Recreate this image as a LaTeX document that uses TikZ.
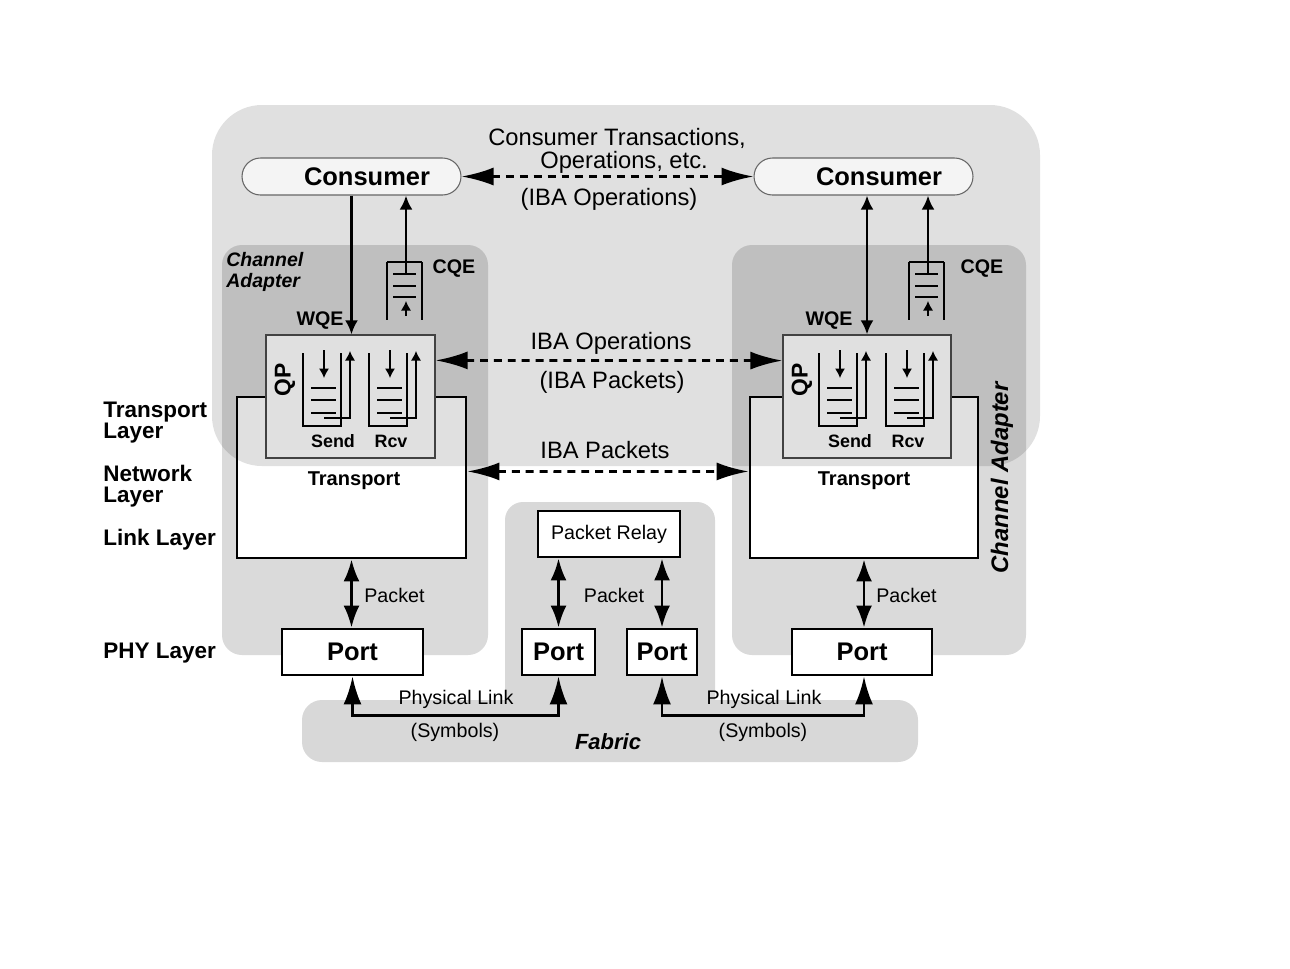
\documentclass[tikz,border=0pt]{standalone}
\usepackage{fontspec}
\setmainfont{Liberation Sans}
\usetikzlibrary{arrows.meta,positioning}

\definecolor{cagray}{HTML}{DADADA}
\definecolor{fabgray}{HTML}{D8D8D8}
\newcommand{\fsz}[2]{\fontsize{#1}{#2}\selectfont}

\begin{document}
\begin{tikzpicture}[x=0.02cm, y=-0.02cm,
    every node/.style={inner sep=0pt},
    mid/.style={font=\fsz{13.5}{13}, align=center},
    small/.style={font=\fsz{11.2}{12}},
    head/.style={font=\bfseries\fsz{14.5}{15}},
    layer/.style={font=\bfseries\fsz{12.8}{11.9}, align=left, anchor=west},
    tag/.style={font=\bfseries\fsz{11.2}{12}},
    qtag/.style={font=\bfseries\fsz{10.2}{11}},
    catag/.style={font=\bfseries\itshape\fsz{11.1}{11.9}, align=left},
    consumer/.style={draw=black!60, line width=0.6pt, fill=gray!9,
                     rounded corners=0.37cm, minimum width=4.38cm, minimum height=0.74cm},
    box/.style={draw, line width=1.6pt, fill=white},
    port/.style={box, minimum height=0.92cm, font=\bfseries\fsz{14.5}{15}},
    qpbox/.style={draw=black!70, line width=0.7pt, fill=white,
                  minimum width=3.38cm, minimum height=2.46cm},
    thinline/.style={line width=0.65pt},
    tiny/.style={line width=0.65pt, -{Latex[length=0.19cm, width=0.2cm]}},
    wqe/.style={line width=1.6pt, -{Latex[length=0.28cm, width=0.26cm]}},
    wqeboth/.style={line width=1.6pt, {Latex[length=0.28cm, width=0.26cm]}-{Latex[length=0.28cm, width=0.26cm]}},
    pkt/.style={line width=1.6pt, {Latex[length=0.44cm, width=0.32cm]}-{Latex[length=0.44cm, width=0.32cm]}},
    phys/.style={line width=1.6pt, {Latex[length=0.56cm, width=0.36cm]}-{Latex[length=0.56cm, width=0.36cm]}},
    dasharrow/.style={line width=1.6pt, dash pattern=on 4.5pt off 3.4pt,
                      {Latex[length=0.64cm, width=0.36cm]}-{Latex[length=0.64cm, width=0.36cm]}}]

  \fill[white] (0,0) rectangle (1290,968);
  \useasboundingbox (0,0) rectangle (1290,968);

  % fabric and switch
  \fill[fabgray, rounded corners=0.4cm] (302,700) rectangle (918,762);
  \fill[fabgray, rounded corners=0.36cm] (505,502) rectangle (715,720);

  % channel adapters
  \foreach \xa/\xb in {222/488, 732/1026}
    \fill[cagray, rounded corners=0.4cm] (\xa,245) rectangle (\xb,655);

  \node[box, minimum width=4.58cm, minimum height=3.22cm] (transL) at (351.5,477.5) {};
  \node[box, minimum width=4.56cm, minimum height=3.22cm] (transR) at (864,477.5) {};
  \node[font=\bfseries\fsz{11.4}{12}] (transLtxt) at (354,481) {Transport};
  \node[font=\bfseries\fsz{11.4}{12}] (transRtxt) at (864,481) {Transport};
  \node[qpbox] (qpL) at (350.5,396.5) {};
  \node[qpbox, minimum width=3.36cm] (qpR) at (867,396.5) {};

  % send and receive queues
  \foreach \q in {303,369,819,886} {
    \draw[thinline] (\q,353) -- (\q,426) -- ({\q+38},426) -- ({\q+38},353);
    \foreach \y in {388,400,413}
      \draw[thinline] ({\q+8},\y) -- ({\q+33},\y);
    \draw[tiny] ({\q+21},350) -- ({\q+21},378);
    \draw[tiny] ({\q+21},418) -- ({\q+47},418) -- ({\q+47},351);
  }
  \foreach \q/\n in {266/L, 783/R} {
    \node[font=\bfseries\fsz{13}{13}, rotate=90] (qp\n txt) at ({\q+19},380) {QP};
    \node[qtag] (send\n) at ({\q+67},441) {Send};
    \node[qtag] (rcv\n) at ({\q+125},441) {Rcv};
  }

  % hosts
  \fill[black, fill opacity=0.12, rounded corners=1cm] (212,105) rectangle (1040,466);

  \node[consumer] (consL) at (351.5,176.5) {};
  \node[consumer] (consR) at (863.5,176.5) {};
  \node[head] (consLtxt) at (367,177) {Consumer};
  \node[head] (consRtxt) at (879,177) {Consumer};

  % completion queues
  \foreach \c/\n in {405/L, 927/R} {
    \draw[thinline] ({\c-18},262) -- ({\c+17},262);
    \draw[thinline] ({\c-18},262) -- ({\c-18},320);
    \draw[thinline] ({\c+17},262) -- ({\c+17},320);
    \foreach \y in {274,286,297}
      \draw[thinline] ({\c-12},\y) -- ({\c+11},\y);
    \coordinate (cqe\n) at ({\c+1},274);
    \draw[tiny] ({\c+1},316) -- ({\c+1},301);
  }

  \draw[wqe] (consL.south) -- (consL.south |- qpL.north);
  \draw[wqe] (cqeL) -- (cqeL |- consL.south);
  \draw[wqeboth] (qpR.north |- consR.south) -- (qpR.north);
  \draw[wqe] (cqeR) -- (cqeR |- consR.south);

  \node[tag] (wqeL) at (320,321) {WQE};
  \node[tag] (wqeR) at (829,321) {WQE};
  \node[tag] (cqeLtxt) at (454,269) {CQE};
  \node[tag] (cqeRtxt) at (982,269) {CQE};
  \node[catag, anchor=west] (caL) at (226,271.5) {Channel\\Adapter};
  \node[font=\bfseries\itshape\fsz{13.6}{14}, rotate=90] (caR) at (1002,478) {Channel Adapter};

  % peer operations
  \draw[dasharrow] (consL.east) -- (consR.west);
  \node[mid] (opsTop) at (617,150.5) {Consumer Transactions,\\\hspace*{8pt}Operations, etc.};
  \node[mid] (opsBot) at (609,199) {(IBA Operations)};
  \draw[dasharrow] (qpL.23) -- (qpR.157);
  \node[mid] (qpTop) at (611,343) {IBA Operations};
  \node[mid] (qpBot) at (612,382) {(IBA Packets)};
  \draw[dasharrow] (transL.3) -- (transR.177);
  \node[mid] (trTop) at (605,450) {IBA Packets};

  % layers
  \node[layer] (layTr) at (103,423) {Transport\\Layer};
  \node[layer] (layNw) at (103,486) {Network\\Layer};
  \node[layer] (layLk) at (103,540) {Link Layer};
  \node[layer] (layPhy) at (103,653) {PHY Layer};

  % switch and ports
  \node[box, minimum width=2.84cm, minimum height=0.92cm, small] (relay) at (609,534) {Packet Relay};
  \node[port, minimum width=2.82cm] (portL) at (352.5,652) {Port};
  \node[port, minimum width=1.46cm] (portM1) at (558.5,652) {Port};
  \node[port, minimum width=1.40cm] (portM2) at (662,652) {Port};
  \node[port, minimum width=2.80cm] (portR) at (862,652) {Port};

  \draw[pkt] (transL.south) -- (transL.south |- portL.north);
  \draw[pkt] (transR.south) -- (transR.south |- portR.north);
  \draw[pkt] (portM1.north |- relay.south) -- (portM1.north);
  \draw[pkt] (portM2.north |- relay.south) -- (portM2.north);
  \node[small, anchor=west] (pktL) at (364,595) {Packet};
  \node[small] (pktM) at (614,595) {Packet};
  \node[small, anchor=west] (pktR) at (876,595) {Packet};

  % links
  \draw[phys] (portL.south) -- ++(0,39) -| (portM1.south);
  \draw[phys] (portM2.south) -- ++(0,39) -| (transR.south |- portR.south);
  \node[small] (linkL) at (456,699) {Physical Link};
  \node[small] (symL) at (455,732) {(Symbols)};
  \node[small] (linkR) at (764,699) {Physical Link};
  \node[small] (symR) at (763,732) {(Symbols)};
  \node[font=\bfseries\itshape\fsz{12.5}{13}] (fabric) at (608,742) {Fabric};
\end{tikzpicture}
\end{document}
